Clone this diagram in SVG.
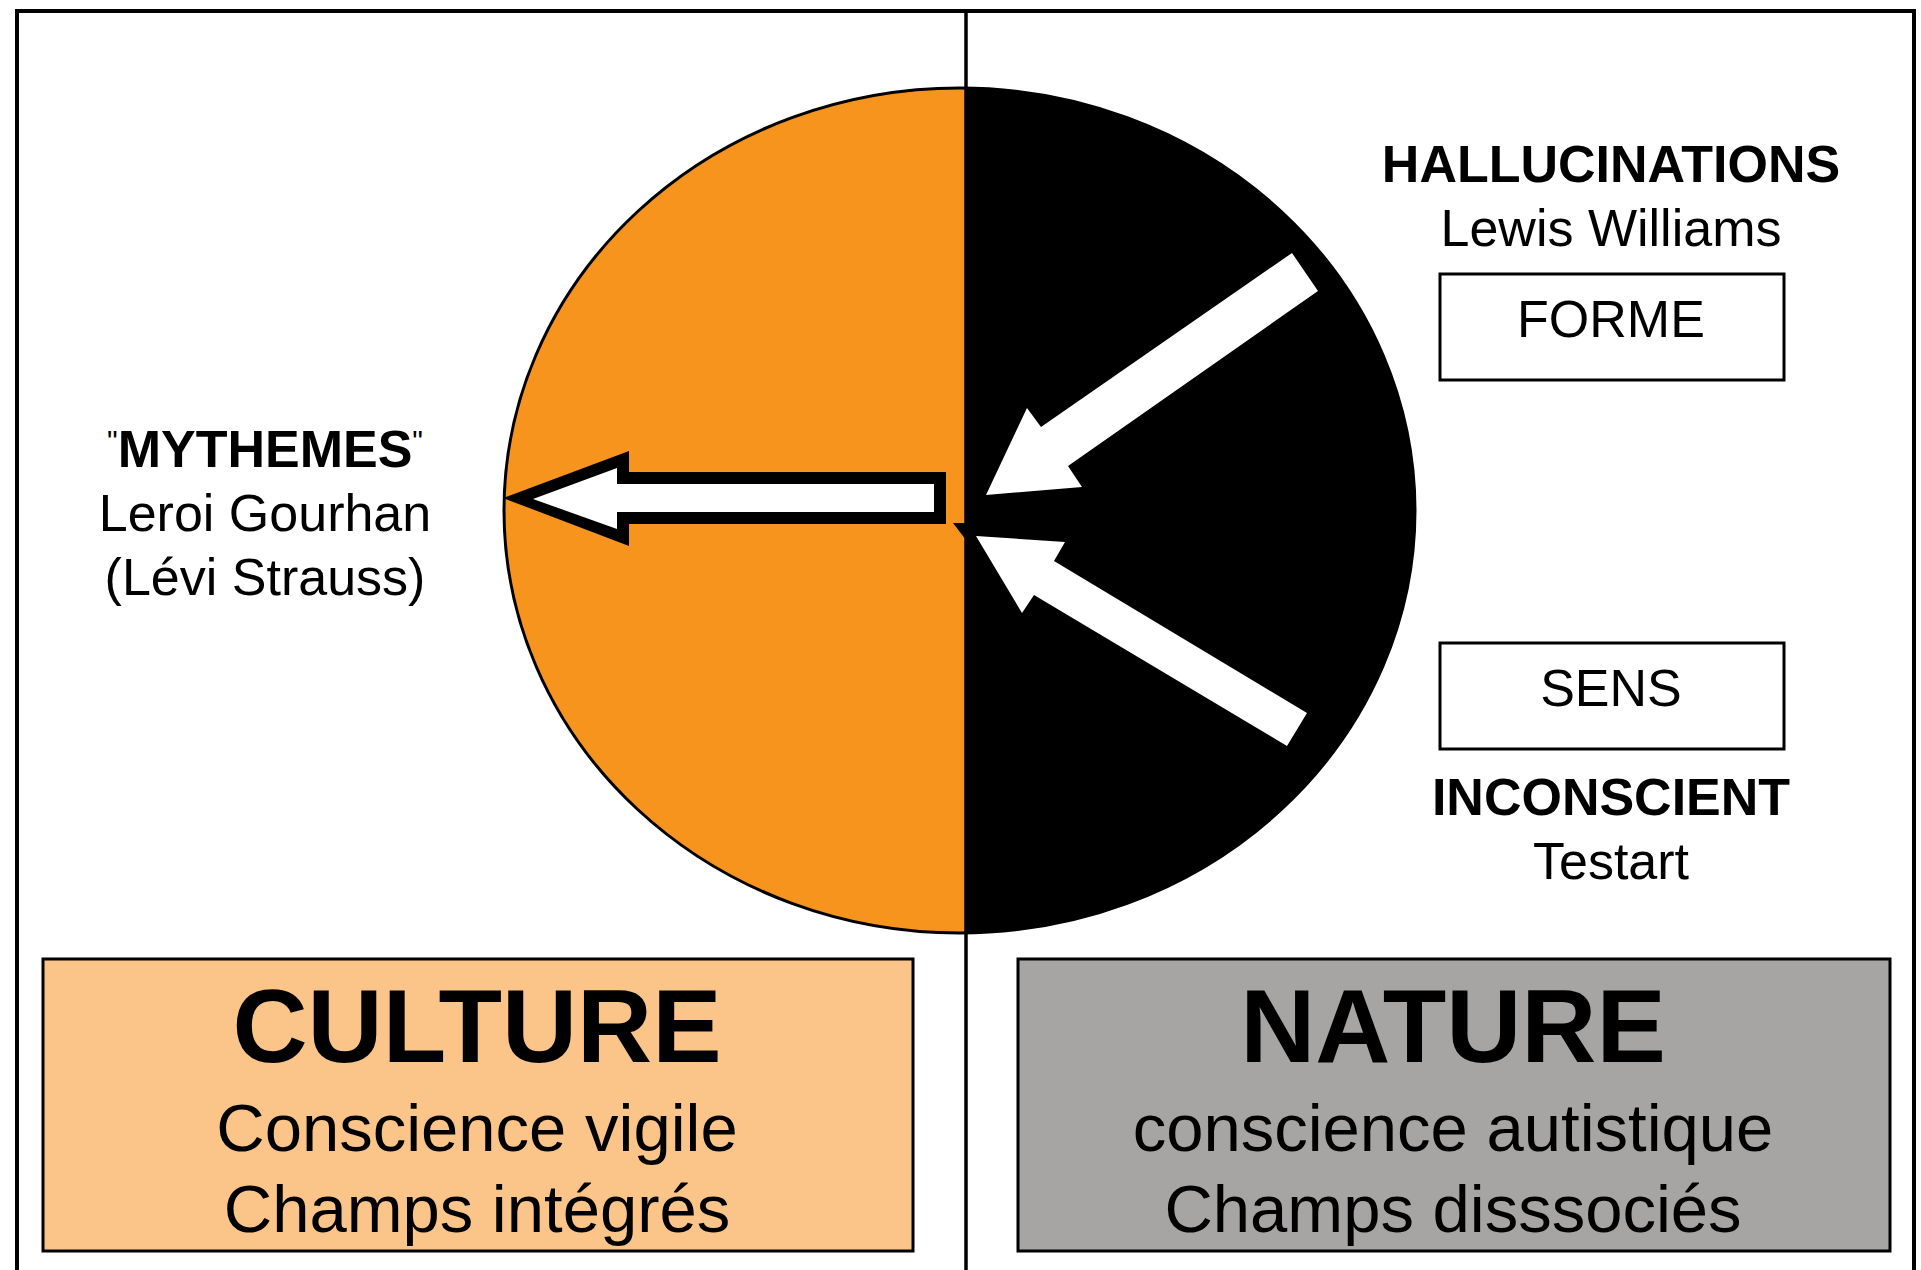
<svg xmlns="http://www.w3.org/2000/svg" width="1921" height="1270" viewBox="0 0 1921 1270">
<defs>
<style>
text{font-family:"Liberation Sans",Arial,Helvetica,sans-serif;fill:#000;text-anchor:middle}
.r{font-size:52px}
.b{font-size:52px;font-weight:bold}
.big{font-size:104px;font-weight:bold}
.sub{font-size:67px}
.box{fill:#fff;stroke:#000;stroke-width:3}
</style>
<clipPath id="rightHalf"><rect x="966" y="0" width="960" height="1270"/></clipPath>
</defs>
<rect x="0" y="0" width="1921" height="1270" fill="#fff"/>
<g id="frame" fill="none" stroke="#000">
<path d="M17,1270 V11 H1914 V1270" stroke-width="4"/>
</g>
<g id="circle">
<ellipse cx="959.5" cy="510.5" rx="455.5" ry="422.5" fill="#F7941E"/>
<ellipse cx="959.5" cy="510.5" rx="455.5" ry="422.5" fill="#000" clip-path="url(#rightHalf)"/>
<ellipse cx="959.5" cy="510.5" rx="455.5" ry="422.5" fill="none" stroke="#000" stroke-width="3"/>
</g>
<g id="divider">
<line x1="966" y1="11" x2="966" y2="1270" stroke="#000" stroke-width="3.5"/>
</g>
<g id="connectors">
<polygon points="503,498 629,451 629,472 946,472 946,524 629,524 629,546" fill="#000"/>
<polygon points="533,499 617,468 617,484 934,484 934,512 617,512 617,529" fill="#fff"/>
<polygon points="953,523 966,523 966,540" fill="#000"/>
<polygon points="1292,253 1318,291 1068,466 1082,487 986,495 1027,408 1041,427" fill="#fff"/>
<polygon points="976,536 1065,542 1054,561 1307,713 1287,746 1034,595 1022,613" fill="#fff"/>
</g>
<g id="mythemes">
<text x="265" y="467"><tspan font-size="30" dy="-16">"</tspan><tspan class="b" dy="16">MYTHEMES</tspan><tspan font-size="30" dy="-16">"</tspan></text>
<text class="r" x="265" y="531">Leroi Gourhan</text>
<text class="r" x="265" y="595">(Lévi Strauss)</text>
</g>
<g id="hallucinations">
<text class="b" x="1611" y="182">HALLUCINATIONS</text>
<text class="r" x="1611" y="246">Lewis Williams</text>
</g>
<g id="forme">
<rect class="box" x="1440" y="274" width="344" height="106"/>
<text class="r" x="1611" y="337">FORME</text>
</g>
<g id="sens">
<rect class="box" x="1440" y="643" width="344" height="106"/>
<text class="r" x="1611" y="706">SENS</text>
</g>
<g id="inconscient">
<text class="b" x="1611" y="815">INCONSCIENT</text>
<text class="r" x="1611" y="879">Testart</text>
</g>
<g id="culture">
<rect x="43" y="959" width="870" height="292" fill="#FBC58A" stroke="#000" stroke-width="3"/>
<text class="big" x="477" y="1062">CULTURE</text>
<text class="sub" x="477" y="1151">Conscience vigile</text>
<text class="sub" x="477" y="1232">Champs intégrés</text>
</g>
<g id="nature">
<rect x="1018" y="959" width="872" height="292" fill="#A6A5A4" stroke="#000" stroke-width="3"/>
<text class="big" x="1453" y="1062">NATURE</text>
<text class="sub" x="1453" y="1151">conscience autistique</text>
<text class="sub" x="1453" y="1232">Champs disssociés</text>
</g>
</svg>
